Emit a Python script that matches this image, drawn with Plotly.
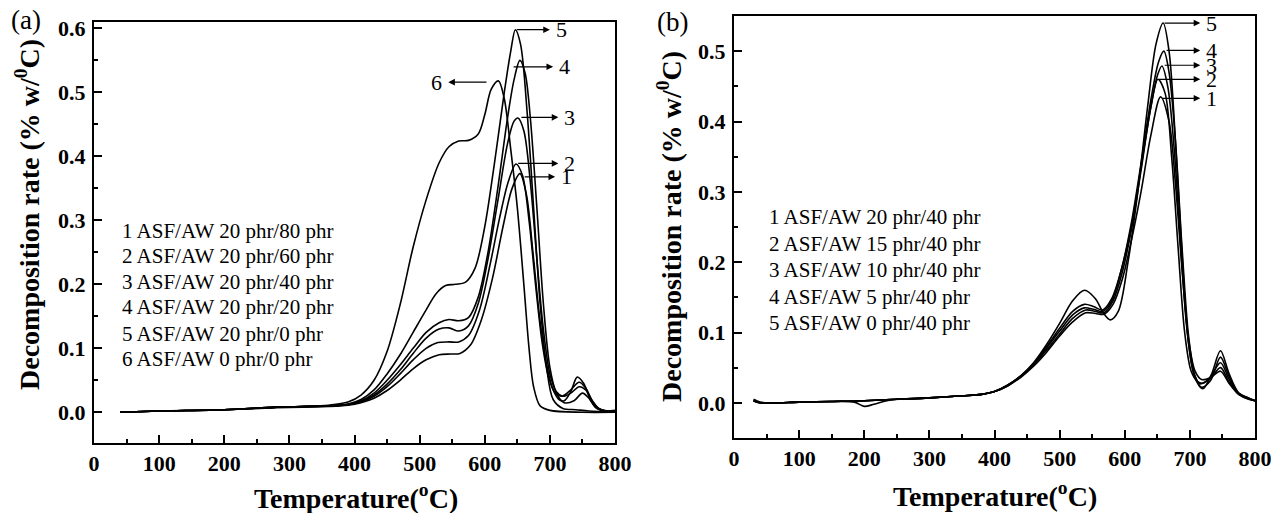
import plotly.graph_objects as go

W, H = 1273, 513

# ---------------- Panel (a) data ----------------
a_names = ["1", "2", "3", "4", "5", "6"]
a1_T = [40, 100, 200, 280, 320, 360, 390, 410, 430, 450, 470, 490, 510, 530, 548, 562, 578, 595, 612, 628, 642, 654, 664, 674, 684, 694, 704, 714, 722, 732, 742, 752, 762, 772, 785, 800]
a1_R = [0.0, 0.002, 0.004, 0.007, 0.008, 0.009, 0.011, 0.015, 0.022, 0.034, 0.05, 0.068, 0.082, 0.09, 0.091, 0.092, 0.105, 0.145, 0.21, 0.29, 0.35, 0.373, 0.34, 0.25, 0.15, 0.08, 0.038, 0.02, 0.018, 0.032, 0.055, 0.045, 0.02, 0.006, 0.002, 0.003]
a2_T = [40, 100, 200, 280, 320, 360, 390, 410, 430, 450, 470, 490, 510, 528, 545, 560, 575, 592, 608, 622, 636, 648, 658, 668, 678, 688, 698, 708, 718, 730, 745, 755, 765, 775, 788, 800]
a2_R = [0.0, 0.002, 0.004, 0.008, 0.009, 0.01, 0.012, 0.016, 0.025, 0.04, 0.06, 0.082, 0.1, 0.109, 0.11, 0.11, 0.12, 0.16, 0.23, 0.3, 0.36, 0.388, 0.37, 0.3, 0.2, 0.11, 0.055, 0.03, 0.025, 0.033, 0.047, 0.038, 0.018, 0.006, 0.002, 0.002]
a3_T = [40, 100, 200, 280, 320, 360, 390, 410, 430, 450, 470, 490, 510, 530, 545, 560, 575, 590, 605, 620, 635, 645, 651, 660, 670, 680, 690, 700, 710, 720, 732, 745, 755, 765, 775, 788, 800]
a3_R = [0.0, 0.002, 0.004, 0.008, 0.009, 0.01, 0.012, 0.017, 0.027, 0.044, 0.066, 0.092, 0.116, 0.13, 0.132, 0.127, 0.135, 0.17, 0.24, 0.33, 0.42, 0.455, 0.46, 0.44, 0.36, 0.24, 0.13, 0.06, 0.032, 0.025, 0.03, 0.04, 0.035, 0.018, 0.006, 0.002, 0.002]
a4_T = [40, 100, 200, 280, 320, 360, 390, 410, 430, 450, 470, 490, 510, 530, 545, 560, 575, 590, 605, 620, 635, 645, 654, 662, 670, 680, 690, 700, 710, 722, 737, 750, 760, 770, 785, 800]
a4_R = [0.0, 0.002, 0.004, 0.008, 0.009, 0.01, 0.012, 0.018, 0.03, 0.05, 0.074, 0.1, 0.125, 0.14, 0.145, 0.143, 0.148, 0.18, 0.25, 0.35, 0.46, 0.52, 0.55, 0.53, 0.46, 0.32, 0.17, 0.07, 0.03, 0.015, 0.018, 0.03, 0.022, 0.008, 0.002, 0.001]
a5_T = [40, 100, 200, 280, 320, 360, 390, 410, 430, 450, 470, 490, 510, 525, 540, 555, 570, 585, 600, 615, 630, 640, 647, 655, 665, 675, 685, 695, 705, 720, 740, 760, 800]
a5_R = [0.0, 0.002, 0.004, 0.008, 0.009, 0.01, 0.013, 0.02, 0.035, 0.06, 0.09, 0.125, 0.16, 0.185, 0.198, 0.2, 0.203, 0.225, 0.29, 0.39, 0.5, 0.565, 0.598, 0.575, 0.47, 0.32, 0.17, 0.07, 0.02, 0.006, 0.004, 0.002, 0.0]
a6_T = [40, 100, 200, 280, 320, 360, 390, 410, 430, 450, 470, 490, 510, 530, 545, 560, 575, 590, 600, 610, 621, 630, 640, 650, 660, 668, 675, 685, 700, 750, 800]
a6_R = [0.0, 0.002, 0.004, 0.008, 0.009, 0.011, 0.016, 0.027, 0.05, 0.095, 0.168, 0.258, 0.332, 0.39, 0.415, 0.424, 0.425, 0.435, 0.465, 0.505, 0.518, 0.49, 0.41, 0.32, 0.2, 0.1, 0.04, 0.01, 0.003, 0.0, 0.0]

a_legend = ["1 ASF/AW 20 phr/80 phr", "2 ASF/AW 20 phr/60 phr", "3 ASF/AW 20 phr/40 phr",
            "4 ASF/AW 20 phr/20 phr", "5 ASF/AW 20 phr/0 phr", "6 ASF/AW 0 phr/0 phr"]
# arrow annotations: (label, tail T, head T, level)
a_arrows = [("5", 647, 700, 0.598), ("4", 642, 705, 0.540), ("3", 654, 713, 0.461),
            ("2", 649, 713, 0.389), ("1", 659, 708, 0.368), ("6", 605, 544, 0.516)]

# ---------------- Panel (b) data ----------------
b1_T = [30, 40, 60, 100, 150, 185, 200, 215, 240, 300, 350, 380, 400, 420, 440, 460, 480, 500, 520, 540, 555, 568, 582, 596, 610, 625, 640, 655, 668, 678, 688, 698, 708, 718, 732, 747, 760, 775, 790, 800]
b1_R = [0.003, 0.0, 0.0, 0.001, 0.002, 0.001, -0.005, -0.002, 0.004, 0.007, 0.01, 0.012, 0.016, 0.024, 0.036, 0.052, 0.072, 0.095, 0.115, 0.128, 0.127, 0.126, 0.14, 0.175, 0.23, 0.3, 0.38, 0.435, 0.4, 0.31, 0.19, 0.09, 0.045, 0.033, 0.036, 0.045, 0.028, 0.012, 0.006, 0.003]
b2_T = [30, 40, 60, 100, 150, 200, 250, 300, 350, 380, 400, 420, 440, 460, 480, 500, 520, 540, 555, 568, 582, 596, 610, 625, 640, 651, 662, 672, 682, 692, 702, 712, 720, 732, 747, 760, 775, 790, 800]
b2_R = [0.003, 0.0, 0.0, 0.001, 0.002, 0.003, 0.005, 0.007, 0.01, 0.012, 0.016, 0.024, 0.037, 0.054, 0.075, 0.098, 0.12, 0.132, 0.13, 0.128, 0.145, 0.185, 0.245, 0.33, 0.42, 0.46, 0.44, 0.35, 0.22, 0.1, 0.045, 0.03, 0.028, 0.035, 0.05, 0.03, 0.012, 0.005, 0.003]
b3_T = [30, 40, 60, 100, 150, 200, 250, 300, 350, 380, 400, 420, 440, 460, 480, 500, 520, 538, 552, 566, 580, 595, 610, 625, 640, 650, 657, 666, 676, 686, 696, 706, 716, 730, 747, 760, 775, 790, 800]
b3_R = [0.003, 0.0, 0.0, 0.001, 0.002, 0.003, 0.005, 0.007, 0.01, 0.012, 0.016, 0.025, 0.038, 0.055, 0.078, 0.102, 0.125, 0.135, 0.133, 0.13, 0.145, 0.19, 0.25, 0.335, 0.42, 0.465, 0.479, 0.45, 0.36, 0.22, 0.1, 0.042, 0.027, 0.035, 0.057, 0.034, 0.013, 0.006, 0.003]
b4_T = [30, 40, 60, 100, 150, 200, 250, 300, 350, 380, 400, 420, 440, 460, 480, 500, 520, 538, 552, 566, 580, 595, 610, 625, 640, 652, 660, 668, 678, 688, 698, 708, 718, 732, 747, 760, 775, 790, 800]
b4_R = [0.003, 0.0, 0.0, 0.001, 0.002, 0.003, 0.005, 0.007, 0.01, 0.012, 0.016, 0.025, 0.038, 0.056, 0.08, 0.106, 0.13, 0.14, 0.137, 0.132, 0.148, 0.19, 0.255, 0.34, 0.43, 0.485, 0.5, 0.47, 0.37, 0.22, 0.095, 0.038, 0.022, 0.032, 0.065, 0.038, 0.014, 0.007, 0.003]
b5_T = [30, 40, 60, 100, 150, 200, 250, 300, 350, 380, 400, 420, 440, 460, 480, 500, 520, 538, 555, 567, 578, 590, 605, 620, 635, 648, 659, 668, 678, 688, 698, 708, 720, 733, 747, 760, 775, 790, 800]
b5_R = [0.005, 0.001, 0.0, 0.001, 0.002, 0.003, 0.005, 0.007, 0.01, 0.012, 0.016, 0.025, 0.038, 0.057, 0.083, 0.113, 0.145, 0.16, 0.148, 0.128, 0.118, 0.13, 0.2, 0.3, 0.42, 0.51, 0.54, 0.5, 0.37, 0.21, 0.085, 0.035, 0.02, 0.04, 0.074, 0.042, 0.014, 0.007, 0.003]

b_legend = ["1 ASF/AW 20 phr/40 phr", "2 ASF/AW 15 phr/40 phr", "3 ASF/AW 10 phr/40 phr",
            "4 ASF/AW 5 phr/40 phr", "5 ASF/AW 0 phr/40 phr"]
b_arrows = [("5", 659, 716, 0.540), ("4", 662, 716, 0.501), ("3", 659, 716, 0.480),
            ("2", 650, 716, 0.460), ("1", 656, 716, 0.433)]

x_ticks = [0, 100, 200, 300, 400, 500, 600, 700, 800]

# ---------------- figure ----------------
SERIF = "Liberation Serif"
fig = go.Figure()

a_series = [(a1_T, a1_R), (a2_T, a2_R), (a3_T, a3_R), (a4_T, a4_R), (a5_T, a5_R), (a6_T, a6_R)]
b_series = [(b1_T, b1_R), (b2_T, b2_R), (b3_T, b3_R), (b4_T, b4_R), (b5_T, b5_R)]

for (t, r), nm in zip(a_series, a_names):
    fig.add_trace(go.Scatter(x=t, y=r, mode="lines", name=nm, xaxis="x", yaxis="y",
                             line=dict(color="black", width=1.6, shape="spline", smoothing=0.9),
                             showlegend=False))
for i, (t, r) in enumerate(b_series):
    fig.add_trace(go.Scatter(x=t, y=r, mode="lines", name=str(i + 1), xaxis="x2", yaxis="y2",
                             line=dict(color="black", width=1.6, shape="spline", smoothing=0.9),
                             showlegend=False))

def px(xp):
    return xp / W

def py(yp):
    return 1 - yp / H

tickfont = dict(family=SERIF, size=22, color="black", weight="bold")
common_x = dict(range=[0, 800], tickmode="array", tickvals=x_ticks, ticks="inside", ticklen=8,
                tickwidth=1.5, tickcolor="black", showline=True, linecolor="black", linewidth=2,
                mirror=True, showgrid=False, zeroline=False, tickfont=tickfont,
                minor=dict(dtick=50, tick0=0, ticks="inside", ticklen=4, tickcolor="black", tickwidth=1.5),
                automargin=False, ticklabelstandoff=0)
common_y = dict(dtick=0.1, tick0=0, tickformat=".1f", ticks="inside", ticklen=8, tickwidth=1.5,
                tickcolor="black", showline=True, linecolor="black", linewidth=2, mirror=True,
                showgrid=False, zeroline=False, tickfont=tickfont,
                minor=dict(dtick=0.05, tick0=0, ticks="inside", ticklen=4, tickcolor="black", tickwidth=1.5),
                automargin=False, ticklabelstandoff=2)

fig.update_layout(
    width=W, height=H, margin=dict(l=0, r=0, t=0, b=0),
    paper_bgcolor="white", plot_bgcolor="white",
    xaxis=dict(domain=[px(94), px(615)], anchor="y", **common_x),
    yaxis=dict(domain=[py(443), py(22)], range=[-0.048, 0.61], anchor="x", **common_y),
    xaxis2=dict(domain=[px(734), px(1255)], anchor="y2", **common_x),
    yaxis2=dict(domain=[py(438), py(16)], range=[-0.05, 0.55], anchor="x2", **common_y),
)

ann = []
title_font = dict(family=SERIF, size=28, color="black", weight="bold")
# axis titles
for cx, cy in [(356, 496), (995, 494)]:
    ann.append(dict(text="Temperature(<sup>o</sup>C)", x=px(cx), y=py(cy), xref="paper", yref="paper",
                    xanchor="center", yanchor="middle", showarrow=False, font=title_font))
for cx, cy in [(28, 215), (670, 227)]:
    ann.append(dict(text="Decomposition rate (% w/<sup>0</sup>C)", x=px(cx), y=py(cy), xref="paper",
                    yref="paper", xanchor="center", yanchor="middle", textangle=-90, showarrow=False,
                    font=title_font))
# panel letters
for lab, cx, cy in [("(a)", 26, 20), ("(b)", 672, 22)]:
    ann.append(dict(text=lab, x=px(cx), y=py(cy), xref="paper", yref="paper", xanchor="center",
                    yanchor="middle", showarrow=False, font=dict(family=SERIF, size=27, color="black")))

leg_font = dict(family=SERIF, size=21, color="black")
a_leg_y = [0.284, 0.244, 0.203, 0.164, 0.123, 0.083]
for txt, yv in zip(a_legend, a_leg_y):
    ann.append(dict(text=txt, x=40, y=yv, xref="x", yref="y", xanchor="left", yanchor="middle",
                    showarrow=False, font=leg_font))
b_leg_y = [0.264, 0.226, 0.189, 0.151, 0.114]
for txt, yv in zip(b_legend, b_leg_y):
    ann.append(dict(text=txt, x=50, y=yv, xref="x2", yref="y2", xanchor="left", yanchor="middle",
                    showarrow=False, font=leg_font))

num_font = dict(family=SERIF, size=22, color="black")
for (lab, t0, t1, lv), (xr, yr) in [(a, ("x", "y")) for a in a_arrows] + [(b, ("x2", "y2")) for b in b_arrows]:
    ann.append(dict(text="", x=t1, y=lv, ax=t0, ay=lv, xref=xr, yref=yr, axref=xr, ayref=yr,
                    showarrow=True, arrowhead=2, arrowsize=1.1, arrowwidth=1.2, arrowcolor="black",
                    standoff=0, startstandoff=0))
    off = 6 if t1 > t0 else -6
    ann.append(dict(text=lab, x=t1 + off, y=lv, xref=xr, yref=yr,
                    xanchor="left" if t1 > t0 else "right", yanchor="middle", showarrow=False,
                    font=num_font))

fig.update_layout(annotations=ann)
fig.write_html("out.html", config={"displayModeBar": False},
               post_script="document.body.style.margin='0';document.body.style.padding='0';")
